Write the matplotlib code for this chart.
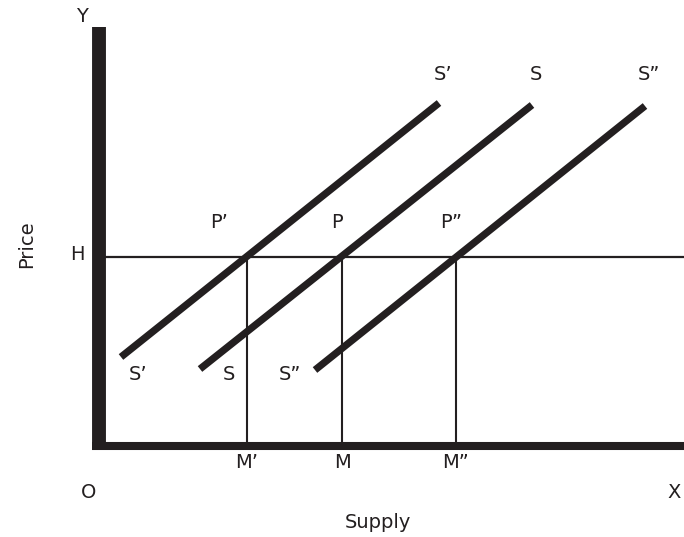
import matplotlib
matplotlib.use("Agg")
import matplotlib.pyplot as plt

# ---- data (quantity, price units; origin at O) ----
price_h = 189
curve_names = ["S’", "S", "S”"]
curve_q_low = [22, 101, 216]
curve_p_low = [89, 77, 76]
curve_q_high = [340, 433, 546]
curve_p_high = [343, 341, 340]
eq_quantities = [148, 243, 357]
eq_point_labels = ["P’", "P", "P”"]
eq_qty_labels = ["M’", "M", "M”"]

INK = "#231f20"
fig = plt.figure(figsize=(6.84, 5.37), dpi=100)
ax = fig.add_axes([0, 0, 1, 1])
ax.set_xlim(-99, 585)
ax.set_ylim(-91, 446)
ax.axis("off")

# axes
ax.plot([0, 0], [-4, 419], color=INK, lw=10, solid_capstyle="butt", zorder=3)
ax.plot([-7, 585], [0, 0], color=INK, lw=5.8, solid_capstyle="butt", zorder=3)

# horizontal price line H
ax.plot([0, 585], [price_h, price_h], color=INK, lw=1.6, zorder=2)

# supply curves
for ql, pl, qh, ph in zip(curve_q_low, curve_p_low, curve_q_high, curve_p_high):
    ax.plot([ql, qh], [pl, ph], color=INK, lw=5.2, solid_capstyle="butt", zorder=2)

# vertical lines to quantities
for q in eq_quantities:
    ax.plot([q, q], [0, price_h], color=INK, lw=1.5, zorder=1)

fs = 14
tkw = dict(color=INK, fontsize=fs, ha="center", va="center", family="DejaVu Sans")

# curve labels
for name, ql, qh in zip(curve_names, curve_q_low, curve_q_high):
    ax.text(qh + 4, 371, name, **tkw)
bottom_label_q = [39, 130, 191]
for name, q in zip(curve_names, bottom_label_q):
    ax.text(q, 71, name, **tkw)

# equilibrium labels
for lab, q in zip(eq_point_labels, eq_quantities):
    ax.text(q - 28 if lab == "P’" else q - 5, 223, lab, **tkw)
for lab, q in zip(eq_qty_labels, eq_quantities):
    ax.text(q, -17, lab, **tkw)

ax.text(-17, 430, "Y", **tkw)
ax.text(-22, 191, "H", **tkw)
ax.text(-10, -47, "O", **tkw)
ax.text(575, -46, "X", **tkw)
ax.text(279, -76, "Supply", **tkw)
ax.text(-72, 202, "Price", rotation=90, **tkw)

fig.savefig("out.png", dpi=100)
